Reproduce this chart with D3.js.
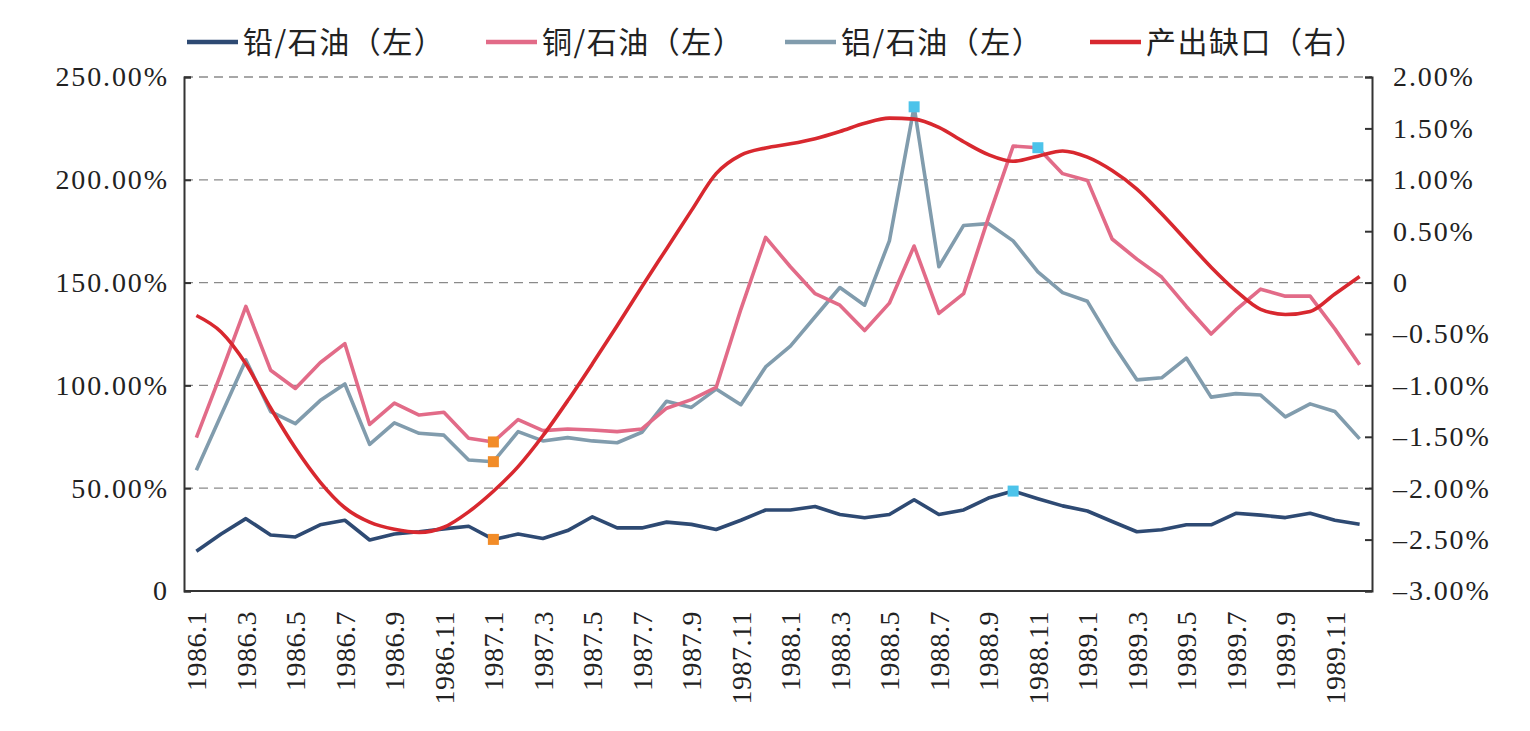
<!DOCTYPE html>
<html><head><meta charset="utf-8">
<script src="https://cdn.jsdelivr.net/npm/d3@7"></script>
<style>body{margin:0;background:#fff}</style>
</head><body>
<svg id="c" width="1530" height="731"></svg>
<script>
const months = ["1986.1","1986.2","1986.3","1986.4","1986.5","1986.6","1986.7","1986.8","1986.9","1986.10","1986.11","1986.12",
"1987.1","1987.2","1987.3","1987.4","1987.5","1987.6","1987.7","1987.8","1987.9","1987.10","1987.11","1987.12",
"1988.1","1988.2","1988.3","1988.4","1988.5","1988.6","1988.7","1988.8","1988.9","1988.10","1988.11","1988.12",
"1989.1","1989.2","1989.3","1989.4","1989.5","1989.6","1989.7","1989.8","1989.9","1989.10","1989.11","1989.12"];
const lead = [19.3,27.7,35.2,27.2,26.3,32.2,34.4,24.8,27.7,28.8,30.2,31.5,25.1,27.7,25.5,29.4,36.1,30.7,30.7,33.5,32.4,29.9,34.4,39.4,39.4,41.1,37.2,35.6,37.2,44.4,37.2,39.4,45.2,48.6,44.9,41.4,38.9,33.8,28.8,29.8,32.2,32.2,37.8,36.9,35.7,37.8,34.4,32.5];
const copper = [74.6,106,138.4,107.4,98.5,111,120.3,81,91.4,85.6,86.9,74.3,72.5,83.4,78,78.8,78.3,77.5,78.8,88.9,93.1,99,137,172,157.7,144.6,139,126.7,140,167.8,135,144.6,181.5,216.4,215.6,203,199.7,171.2,161.4,152.7,138.4,125,136.7,146.8,143.4,143.4,127.5,110];
const aluminum = [58.7,85.6,112.4,87.3,81.4,92.6,100.7,71.3,81.8,76.7,75.8,63.7,62.9,77.5,73,74.6,73,72.1,77.2,92.3,89.3,98.2,90.6,109,119.1,133.4,147.6,139,170.3,235.5,157.7,177.8,178.7,170.3,155.2,145.1,140.9,120.8,102.7,103.7,113.3,94.3,96,95.3,84.7,91,87.3,74];
const gap = [-0.32,-0.48,-0.79,-1.22,-1.61,-1.94,-2.19,-2.33,-2.40,-2.43,-2.38,-2.23,-2.03,-1.79,-1.49,-1.15,-0.79,-0.42,-0.04,0.33,0.70,1.06,1.24,1.31,1.35,1.40,1.47,1.55,1.60,1.59,1.51,1.37,1.245,1.18,1.23,1.28,1.22,1.09,0.91,0.67,0.41,0.15,-0.08,-0.26,-0.31,-0.28,-0.11,0.06];
const leftTicks = [0,50,100,150,200,250];
const rightTicks = [-3,-2.5,-2,-1.5,-1,-0.5,0,0.5,1,1.5,2];
const legendNames = ["铅/石油（左）","铜/石油（左）","铝/石油（左）","产出缺口（右）"];
// highlighted points: [series, index]
const orangeMarks = [["copper",12],["aluminum",12],["lead",12]];
const blueMarks = [["aluminum",29],["copper",34],["lead",33]];

const svg = d3.select("#c");
const L=184,R=1372,T=77,B=591;
const x = d3.scalePoint().domain(d3.range(months.length)).range([L,R]).padding(0.5);
const yL = d3.scaleLinear().domain([0,250]).range([B,T]);
const yR = d3.scaleLinear().domain([-3,2]).range([B,T]);
const serif = "'Liberation Serif','DejaVu Serif',serif";
const cjk = "'Noto Sans CJK SC','Liberation Serif',sans-serif";

// gridlines
svg.append("g").selectAll("line").data([50,100,150,200,250]).join("line")
  .attr("x1",L).attr("x2",R).attr("y1",d=>yL(d)).attr("y2",d=>yL(d))
  .attr("stroke","#8a8a8a").attr("stroke-width",1.3).attr("stroke-dasharray","9,6");

// left axis
const ga = svg.append("g").attr("transform",`translate(${L},0)`)
  .call(d3.axisLeft(yL).tickValues(leftTicks).tickSize(-7).tickPadding(15)
    .tickFormat(d=>d===0?"0":d3.format(".2f")(d)+"%"));
ga.select(".domain").attr("stroke","#333").attr("stroke-width",2);
ga.selectAll(".tick line").attr("stroke","#333").attr("stroke-width",2);
ga.selectAll("text").attr("font-family",serif).attr("font-size",28).attr("letter-spacing","1.9px").attr("fill","#222");

// right axis
const gr = svg.append("g").attr("transform",`translate(${R},0)`)
  .call(d3.axisRight(yR).tickValues(rightTicks).tickSize(-7).tickPadding(21)
    .tickFormat(d=>d===0?"0":(d<0?"–":"")+d3.format(".2f")(Math.abs(d))+"%"));
gr.select(".domain").attr("stroke","#333").attr("stroke-width",2);
gr.selectAll(".tick line").attr("stroke","#333").attr("stroke-width",2);
gr.selectAll("text").attr("font-family",serif).attr("font-size",28).attr("letter-spacing","1.9px").attr("fill","#222");

// bottom axis
const gb = svg.append("g").attr("transform",`translate(0,${B})`)
  .call(d3.axisBottom(x).tickValues(d3.range(0,months.length,2)).tickSize(0).tickFormat(i=>months[i]));
gb.select(".domain").attr("stroke","#333").attr("stroke-width",2).attr("d",`M${L},0H${R}`);
gb.selectAll("text").attr("font-family",serif).attr("font-size",28).attr("letter-spacing","0.5px").attr("fill","#222")
  .attr("text-anchor","end").attr("transform","rotate(-90)").attr("x",-20).attr("y",0).attr("dy","0.33em");

// lines
const lineL = d3.line().x((d,i)=>x(i)).y(d=>yL(d));
const lineR = d3.line().x((d,i)=>x(i)).y(d=>yR(d)).curve(d3.curveMonotoneX);
const seriesColors = {lead:"#2e4a73",copper:"#e26b88",aluminum:"#819cad",gap:"#d8282f"};
const seriesData = {lead,copper,aluminum};
svg.append("path").datum(aluminum).attr("d",lineL).attr("fill","none").attr("stroke",seriesColors.aluminum).attr("stroke-width",3.6).attr("stroke-linejoin","round");
svg.append("path").datum(copper).attr("d",lineL).attr("fill","none").attr("stroke",seriesColors.copper).attr("stroke-width",3.6).attr("stroke-linejoin","round");
svg.append("path").datum(lead).attr("d",lineL).attr("fill","none").attr("stroke",seriesColors.lead).attr("stroke-width",3.6).attr("stroke-linejoin","round");
svg.append("path").datum(gap).attr("d",lineR).attr("fill","none").attr("stroke",seriesColors.gap).attr("stroke-width",3.6).attr("stroke-linejoin","round");

// markers
const sq = 11;
svg.append("g").selectAll("rect").data(orangeMarks).join("rect")
  .attr("x",d=>x(d[1])-sq/2).attr("y",d=>yL(seriesData[d[0]][d[1]])-sq/2)
  .attr("width",sq).attr("height",sq).attr("fill","#f28c28");
svg.append("g").selectAll("rect").data(blueMarks).join("rect")
  .attr("x",d=>x(d[1])-sq/2).attr("y",d=>yL(seriesData[d[0]][d[1]])-sq/2)
  .attr("width",sq).attr("height",sq).attr("fill","#4cc3ea");

// legend
const legX = [187,486,785,1090];
const legC = [seriesColors.lead,seriesColors.copper,seriesColors.aluminum,seriesColors.gap];
const lg = svg.append("g");
legendNames.forEach((n,i)=>{
  lg.append("line").attr("x1",legX[i]).attr("x2",legX[i]+51).attr("y1",42).attr("y2",42)
    .attr("stroke",legC[i]).attr("stroke-width",4.5);
  lg.append("text").attr("x",legX[i]+56).attr("y",42).attr("dy","0.36em")
    .attr("font-family",cjk).attr("font-size",30).attr("letter-spacing","1.5px").attr("fill","#222").text(n);
});
</script>
</body></html>
